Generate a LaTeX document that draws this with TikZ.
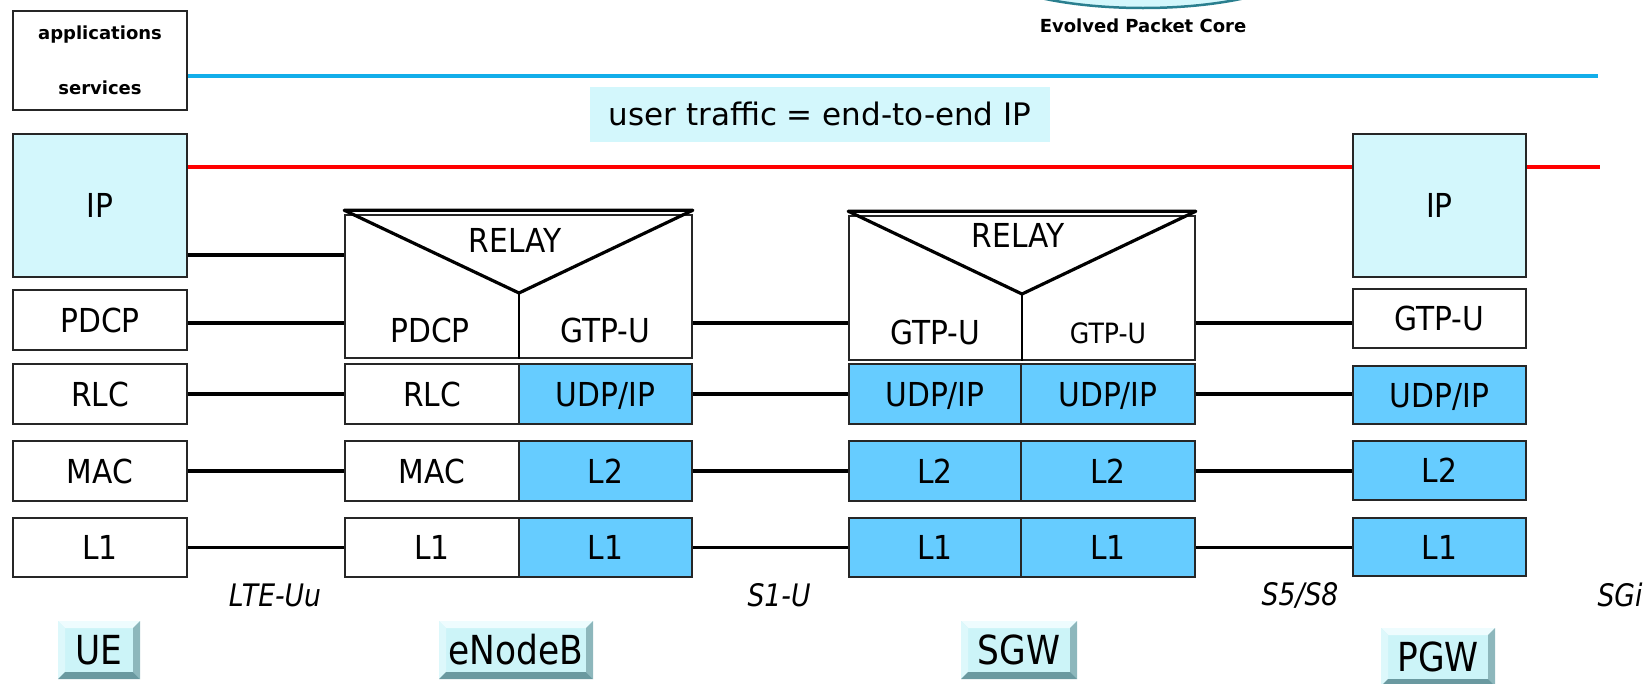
\documentclass[tikz,border=0pt]{standalone}
\usepackage{fontspec}
\setmainfont{DejaVu Sans}
\newfontfamily\narrowfont[FakeStretch=0.86]{DejaVu Sans}
\newfontfamily\boxfont[FakeStretch=0.9]{DejaVu Sans}
\usetikzlibrary{calc}

\definecolor{ipcyan}{HTML}{D3F7FC}
\definecolor{udpblue}{HTML}{66CCFF}
\definecolor{skyline}{HTML}{12AEEA}
\definecolor{cloudedge}{HTML}{2A7F8F}
\definecolor{btnface}{HTML}{CCF4F8}
\definecolor{btnhi}{HTML}{EEFCFE}
\definecolor{btnside}{HTML}{DDF8FB}
\definecolor{btnshade}{HTML}{8DB7BC}
\definecolor{btndark}{HTML}{6A99A0}

\begin{document}
\begin{tikzpicture}[x=1pt,y=-1pt,
  layer/.style={draw=black!85, line width=1.5pt, inner sep=0pt,
    font=\boxfont\fontsize{33}{38}\selectfont, text height=24pt, text depth=0pt},
  plain/.style={layer, fill=white},
  cyanbox/.style={layer, fill=ipcyan},
  bluebox/.style={layer, fill=udpblue},
  relaybox/.style={draw=black!85, line width=1.5pt, inner sep=0pt, fill=white},
  vee/.style={line width=3.2pt, line join=round, line cap=round},
  conn/.style={line width=3.2pt, black},
  lbl/.style={inner sep=0pt, font=\boxfont\fontsize{33}{38}\selectfont, text height=24pt, text depth=0pt},
  iface/.style={inner sep=0pt, font=\narrowfont\itshape\fontsize{31}{36}\selectfont},
  bevelbtn/.style={fill=btnface, inner sep=0pt, minimum height=58pt,
    font=\narrowfont\fontsize{40}{48}\selectfont, text height=29pt, text depth=0pt,
    path picture={
      \fill[btnhi] (path picture bounding box.north west) -- (path picture bounding box.north east)
        -- ([xshift=-7pt,yshift=-7pt]path picture bounding box.north east)
        -- ([xshift=7pt,yshift=-7pt]path picture bounding box.north west) -- cycle;
      \fill[btnside] (path picture bounding box.north west) -- ([xshift=7pt,yshift=-7pt]path picture bounding box.north west)
        -- ([xshift=7pt,yshift=7pt]path picture bounding box.south west) -- (path picture bounding box.south west) -- cycle;
      \fill[btnshade] (path picture bounding box.north east) -- ([xshift=-7pt,yshift=-7pt]path picture bounding box.north east)
        -- ([xshift=-7pt,yshift=7pt]path picture bounding box.south east) -- (path picture bounding box.south east) -- cycle;
      \fill[btndark] (path picture bounding box.south west) -- ([xshift=7pt,yshift=7pt]path picture bounding box.south west)
        -- ([xshift=-7pt,yshift=7pt]path picture bounding box.south east) -- (path picture bounding box.south east) -- cycle;
    }}
]
\useasboundingbox (0,0) rectangle (1651,683);

% core network cloud, partly above the page edge
\begin{scope}
  \clip (0,0) rectangle (1651,683);
  \draw[cloudedge, line width=2.5pt, fill=ipcyan] (1143,-45) ellipse [x radius=175, y radius=53];
\end{scope}
\node[inner sep=0pt, font=\bfseries\fontsize{18}{22}\selectfont] (epc) at (1143,26) {Evolved Packet Core};

% level markers for the horizontal links
\coordinate (blueLevel) at (0,76);
\coordinate (blueEnd) at (1598,76);
\coordinate (redLevel) at (0,167);
\coordinate (redEnd) at (1600,167);
\coordinate (ipLevel) at (0,255);
\coordinate (gtpLevel) at (0,323);

% ---------- UE stack ----------
\node[layer, fill=white, minimum width=174pt, minimum height=99pt] (app) at (100,60.5) {};
\node[inner sep=0pt, font=\bfseries\fontsize{18}{22}\selectfont] (appA) at (100,35) {applications};
\node[inner sep=0pt, font=\bfseries\fontsize{18}{22}\selectfont] (appS) at (100,88) {services};
\node[cyanbox, minimum width=174pt, minimum height=143pt] (ueIP) at (100,205.5) {IP};
\node[plain, minimum width=174pt, minimum height=60pt] (uePDCP) at (100,320) {PDCP};
\node[plain, minimum width=174pt, minimum height=60pt] (ueRLC) at (100,394) {RLC};
\node[plain, minimum width=174pt, minimum height=60pt] (ueMAC) at (100,471) {MAC};
\node[plain, minimum width=174pt, minimum height=59pt] (ueL1) at (100,547.5) {L1};

% ---------- eNodeB stack ----------
\node[relaybox, minimum width=347pt, minimum height=143pt] (enbRelay) at (518.5,286.5) {};
\coordinate (enbV) at (519,293);
\draw[vee] ([yshift=4pt]enbRelay.north west) -- ([yshift=4pt]enbRelay.north east) -- (enbV) -- cycle;
\draw[line width=1.5pt] (enbV) -- (enbV |- enbRelay.south);
\node[lbl] (enbRelayT) at (515,240) {RELAY};
\node[lbl] (enbPDCP) at (430,330) {PDCP};
\node[lbl] (enbGTP) at (605,330) {GTP-U};
\node[plain, minimum width=174pt, minimum height=60pt] (enbRLC) at (432,394) {RLC};
\node[bluebox, minimum width=173pt, minimum height=60pt] (enbUDP) at (605.5,394) {UDP/IP};
\node[plain, minimum width=174pt, minimum height=60pt] (enbMAC) at (432,471) {MAC};
\node[bluebox, minimum width=173pt, minimum height=60pt] (enbL2) at (605.5,471) {L2};
\node[plain, minimum width=174pt, minimum height=59pt] (enbL1a) at (432,547.5) {L1};
\node[bluebox, minimum width=173pt, minimum height=59pt] (enbL1b) at (605.5,547.5) {L1};

% ---------- SGW stack ----------
\node[relaybox, minimum width=346pt, minimum height=144pt] (sgwRelay) at (1022,288) {};
\coordinate (sgwV) at (1022,294);
\draw[vee] ([yshift=4pt]sgwRelay.north west) -- ([yshift=4pt]sgwRelay.north east) -- (sgwV) -- cycle;
\draw[line width=1.5pt] (sgwV) -- (sgwV |- sgwRelay.south);
\node[lbl] (sgwRelayT) at (1018,235) {RELAY};
\node[lbl] (sgwGTPa) at (935,332) {GTP-U};
\node[inner sep=0pt, font=\boxfont\fontsize{28}{32}\selectfont, text height=20pt, text depth=0pt] (sgwGTPb) at (1108,333) {GTP-U};
\node[bluebox, minimum width=172pt, minimum height=60pt] (sgwUDPa) at (935,394) {UDP/IP};
\node[bluebox, minimum width=174pt, minimum height=60pt] (sgwUDPb) at (1108,394) {UDP/IP};
\node[bluebox, minimum width=172pt, minimum height=60pt] (sgwL2a) at (935,471) {L2};
\node[bluebox, minimum width=174pt, minimum height=60pt] (sgwL2b) at (1108,471) {L2};
\node[bluebox, minimum width=172pt, minimum height=59pt] (sgwL1a) at (935,547.5) {L1};
\node[bluebox, minimum width=174pt, minimum height=59pt] (sgwL1b) at (1108,547.5) {L1};

% ---------- PGW stack ----------
\node[cyanbox, minimum width=173pt, minimum height=143pt] (pgwIP) at (1439.5,205.5) {IP};
\node[plain, minimum width=173pt, minimum height=59pt] (pgwGTP) at (1439.5,318.5) {GTP-U};
\node[bluebox, minimum width=173pt, minimum height=58pt] (pgwUDP) at (1439.5,395) {UDP/IP};
\node[bluebox, minimum width=173pt, minimum height=59pt] (pgwL2) at (1439.5,470.5) {L2};
\node[bluebox, minimum width=173pt, minimum height=58pt] (pgwL1) at (1439.5,547) {L1};

% ---------- end-to-end lines ----------
\draw[skyline, line width=4pt] (app.east |- blueLevel) -- (blueEnd);
\draw[red, line width=4pt] (ueIP.east |- redLevel) -- (pgwIP.west |- redLevel);
\draw[red, line width=4pt] (pgwIP.east |- redLevel) -- (redEnd);
\node[fill=ipcyan, minimum width=460pt, minimum height=55pt, inner sep=0pt,
  font=\fontsize{31}{36}\selectfont, text height=22pt, text depth=0pt] (traffic) at (820,114.5)
  {user traffic = end-to-end IP};

% ---------- peer links ----------
\draw[conn] (ueIP.east |- ipLevel) -- (enbRelay.west |- ipLevel);
\draw[conn] (uePDCP.east |- gtpLevel) -- (enbRelay.west |- gtpLevel);
\draw[conn] (ueRLC.east) -- (enbRLC.west);
\draw[conn] (ueMAC.east) -- (enbMAC.west);
\draw[conn] (ueL1.east) -- (enbL1a.west);

\draw[conn] (enbRelay.east |- gtpLevel) -- (sgwRelay.west |- gtpLevel);
\draw[conn] (enbUDP.east) -- (sgwUDPa.west);
\draw[conn] (enbL2.east) -- (sgwL2a.west);
\draw[conn] (enbL1b.east) -- (sgwL1a.west);

\draw[conn] (sgwRelay.east |- gtpLevel) -- (pgwGTP.west |- gtpLevel);
\draw[conn] (sgwUDPb.east) -- (pgwUDP.west |- sgwUDPb.east);
\draw[conn] (sgwL2b.east) -- (pgwL2.west |- sgwL2b.east);
\draw[conn] (sgwL1b.east) -- (pgwL1.west |- sgwL1b.east);

% ---------- interface names ----------
\node[iface] (ifUu) at (275,595) {LTE-Uu};
\node[iface] (ifS1) at (779,595) {S1-U};
\node[iface] (ifS5) at (1300,595) {S5/S8};
\node[iface] (ifSGi) at (1620,595) {SGi};

% ---------- network element buttons ----------
\node[bevelbtn, minimum width=82pt] (btnUE) at (99,650) {UE};
\node[bevelbtn, minimum width=154pt] (btnENB) at (516,650) {eNodeB};
\node[bevelbtn, minimum width=116pt] (btnSGW) at (1019,650) {SGW};
\node[bevelbtn, minimum width=114pt] (btnPGW) at (1438,657) {PGW};
\end{tikzpicture}
\end{document}
